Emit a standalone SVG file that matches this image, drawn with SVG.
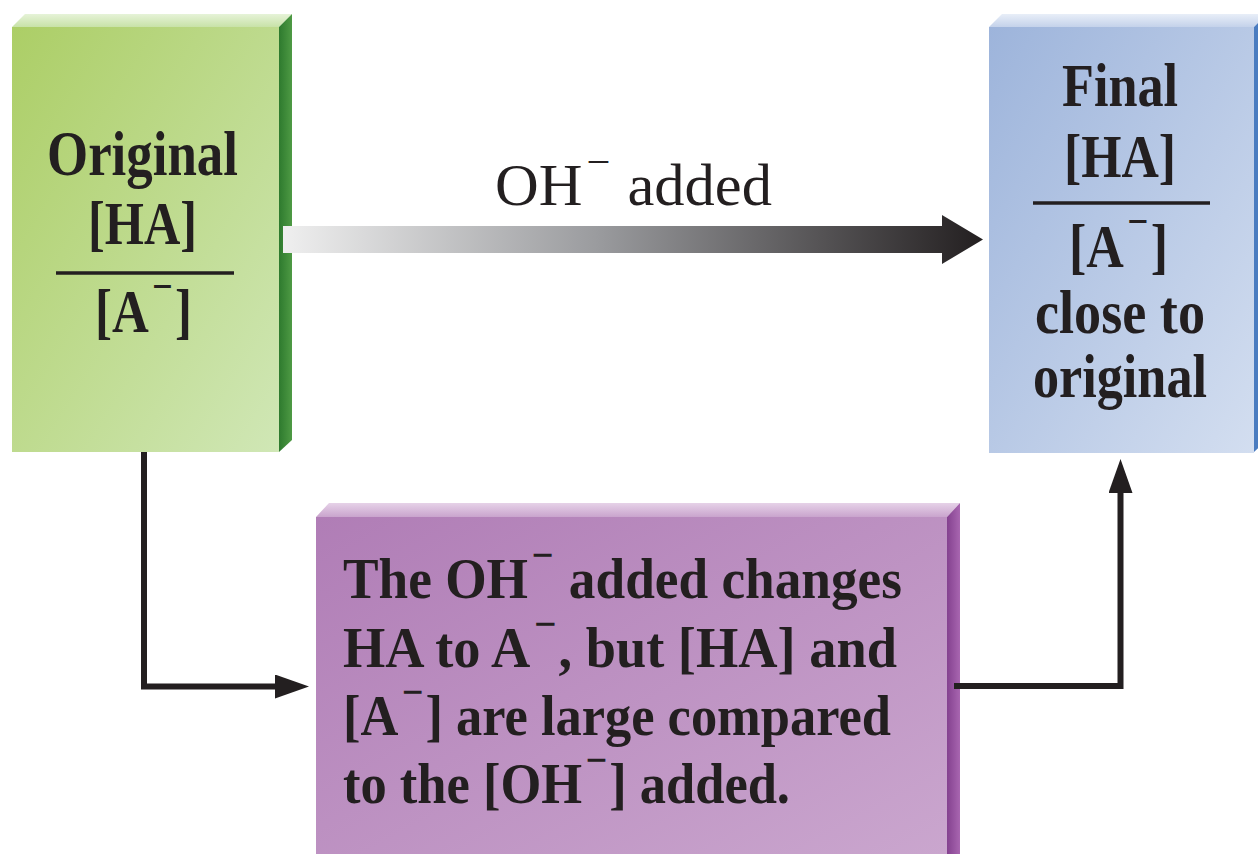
<svg xmlns="http://www.w3.org/2000/svg" width="1258" height="854" viewBox="0 0 1258 854">
<style>
.b{font-family:"Liberation Serif","Times New Roman",serif;font-weight:bold;fill:#231f20}
.r{font-family:"Liberation Serif","Times New Roman",serif;font-weight:normal;fill:#231f20}
.conn{fill:none;stroke:#231f20;stroke-width:6}
.rule{stroke:#231f20;stroke-width:3.5}
</style>
<defs>
<linearGradient id="gFront" x1="0" y1="0" x2="1" y2="1">
<stop offset="0" stop-color="#acce66"/><stop offset="1" stop-color="#d0e7b6"/>
</linearGradient>
<linearGradient id="gTop" x1="0" y1="0" x2="0" y2="1">
<stop offset="0" stop-color="#e6f3d8"/><stop offset="1" stop-color="#c8e2a8"/>
</linearGradient>
<linearGradient id="gSide" x1="0" y1="0" x2="1" y2="0">
<stop offset="0" stop-color="#2e7a2e"/><stop offset="1" stop-color="#4e9a44"/>
</linearGradient>
<linearGradient id="bFront" x1="0" y1="0" x2="1" y2="1">
<stop offset="0" stop-color="#9db4db"/><stop offset="1" stop-color="#d3def0"/>
</linearGradient>
<linearGradient id="bTop" x1="0" y1="0" x2="0" y2="1">
<stop offset="0" stop-color="#e8eef8"/><stop offset="1" stop-color="#c4d2ea"/>
</linearGradient>
<linearGradient id="pFront" x1="0" y1="0" x2="1" y2="1">
<stop offset="0" stop-color="#b07db6"/><stop offset="1" stop-color="#caa6ce"/>
</linearGradient>
<linearGradient id="pTop" x1="0" y1="0" x2="0" y2="1">
<stop offset="0" stop-color="#e6d2e8"/><stop offset="1" stop-color="#c9a4cd"/>
</linearGradient>
<linearGradient id="pSide" x1="0" y1="0" x2="1" y2="0">
<stop offset="0" stop-color="#84418f"/><stop offset="1" stop-color="#a866b0"/>
</linearGradient>
<linearGradient id="arrowGrad" gradientUnits="userSpaceOnUse" x1="283" y1="0" x2="983" y2="0">
<stop offset="0" stop-color="#efefef"/><stop offset="0.45" stop-color="#9a9b9e"/><stop offset="1" stop-color="#231f20"/>
</linearGradient>
<marker id="head" viewBox="0 0 34 24" markerWidth="34" markerHeight="24" markerUnits="userSpaceOnUse" refX="5" refY="12" orient="auto">
<polygon points="0,0 34,12 0,24" fill="#231f20"/>
</marker>
</defs>

<rect width="1258" height="854" fill="#ffffff"/>

<g id="node-original">
<polygon points="12,27 25,14 292,14 279,27" fill="url(#gTop)"/>
<polygon points="279,27 292,14 292,440 279,452" fill="url(#gSide)"/>
<rect x="12" y="27" width="267" height="425" fill="url(#gFront)"/>
<text class="b" x="47" y="175" font-size="64" textLength="191" lengthAdjust="spacingAndGlyphs">Original</text>
<text class="b" x="88" y="244" font-size="62" textLength="109" lengthAdjust="spacingAndGlyphs">[HA]</text>
<line class="rule" x1="56" y1="273" x2="234" y2="273"/>
<text class="b" x="95" y="332" font-size="62" textLength="97" lengthAdjust="spacingAndGlyphs">[A<tspan font-size="44" dx="4" dy="-31">−</tspan><tspan dx="3" dy="31">]</tspan></text>
</g>

<g id="node-final">
<polygon points="989,27 1002,14 1267,14 1254,27" fill="url(#bTop)"/>
<polygon points="1254,27 1267,14 1267,440 1254,452" fill="#4a7cc0"/>
<rect x="989" y="27" width="265" height="426" fill="url(#bFront)"/>
<text class="b" x="1062" y="106" font-size="62" textLength="116" lengthAdjust="spacingAndGlyphs">Final</text>
<text class="b" x="1064" y="177" font-size="62" textLength="112" lengthAdjust="spacingAndGlyphs">[HA]</text>
<line class="rule" x1="1033" y1="203" x2="1210" y2="203"/>
<text class="b" x="1069" y="267" font-size="62" textLength="99" lengthAdjust="spacingAndGlyphs">[A<tspan font-size="44" dx="4" dy="-31">−</tspan><tspan dx="3" dy="31">]</tspan></text>
<text class="b" x="1035" y="333" font-size="62" textLength="170" lengthAdjust="spacingAndGlyphs">close to</text>
<text class="b" x="1033" y="397" font-size="62" textLength="174" lengthAdjust="spacingAndGlyphs">original</text>
</g>

<g id="node-explanation">
<polygon points="316,517 329,503 960,503 947,517" fill="url(#pTop)"/>
<polygon points="947,517 960,503 960,854 947,854" fill="url(#pSide)"/>
<rect x="316" y="517" width="631" height="337" fill="url(#pFront)"/>
<text class="b" x="343" y="598" font-size="58" textLength="559" lengthAdjust="spacingAndGlyphs">The OH<tspan font-size="42" dx="4" dy="-29">−</tspan><tspan dx="2" dy="29"> added changes</tspan></text>
<text class="b" x="343" y="667" font-size="58" textLength="554" lengthAdjust="spacingAndGlyphs">HA to A<tspan font-size="42" dx="4" dy="-29">−</tspan><tspan dx="2" dy="29">, but [HA] and</tspan></text>
<text class="b" x="343" y="735" font-size="58" textLength="548" lengthAdjust="spacingAndGlyphs">[A<tspan font-size="42" dx="4" dy="-29">−</tspan><tspan dx="2" dy="29">] are large compared</tspan></text>
<text class="b" x="343" y="803" font-size="58" textLength="447" lengthAdjust="spacingAndGlyphs">to the [OH<tspan font-size="42" dx="4" dy="-29">−</tspan><tspan dx="2" dy="29">] added.</tspan></text>
</g>

<g id="connectors">
<polygon id="edge-oh-added" points="283,226 942,226 942,215 983,239.5 942,264 942,253 283,253" fill="url(#arrowGrad)"/>
<text class="r" x="495" y="205" font-size="60" textLength="277" lengthAdjust="spacingAndGlyphs">OH<tspan font-size="42" dx="4" dy="-29">−</tspan><tspan dx="2" dy="29"> added</tspan></text>
<path id="edge-original-explanation" class="conn" d="M144,452 V686.5 H280" marker-end="url(#head)"/>
<path id="edge-explanation-final" class="conn" d="M954,686 H1120.5 V488" marker-end="url(#head)"/>
</g>
</svg>
